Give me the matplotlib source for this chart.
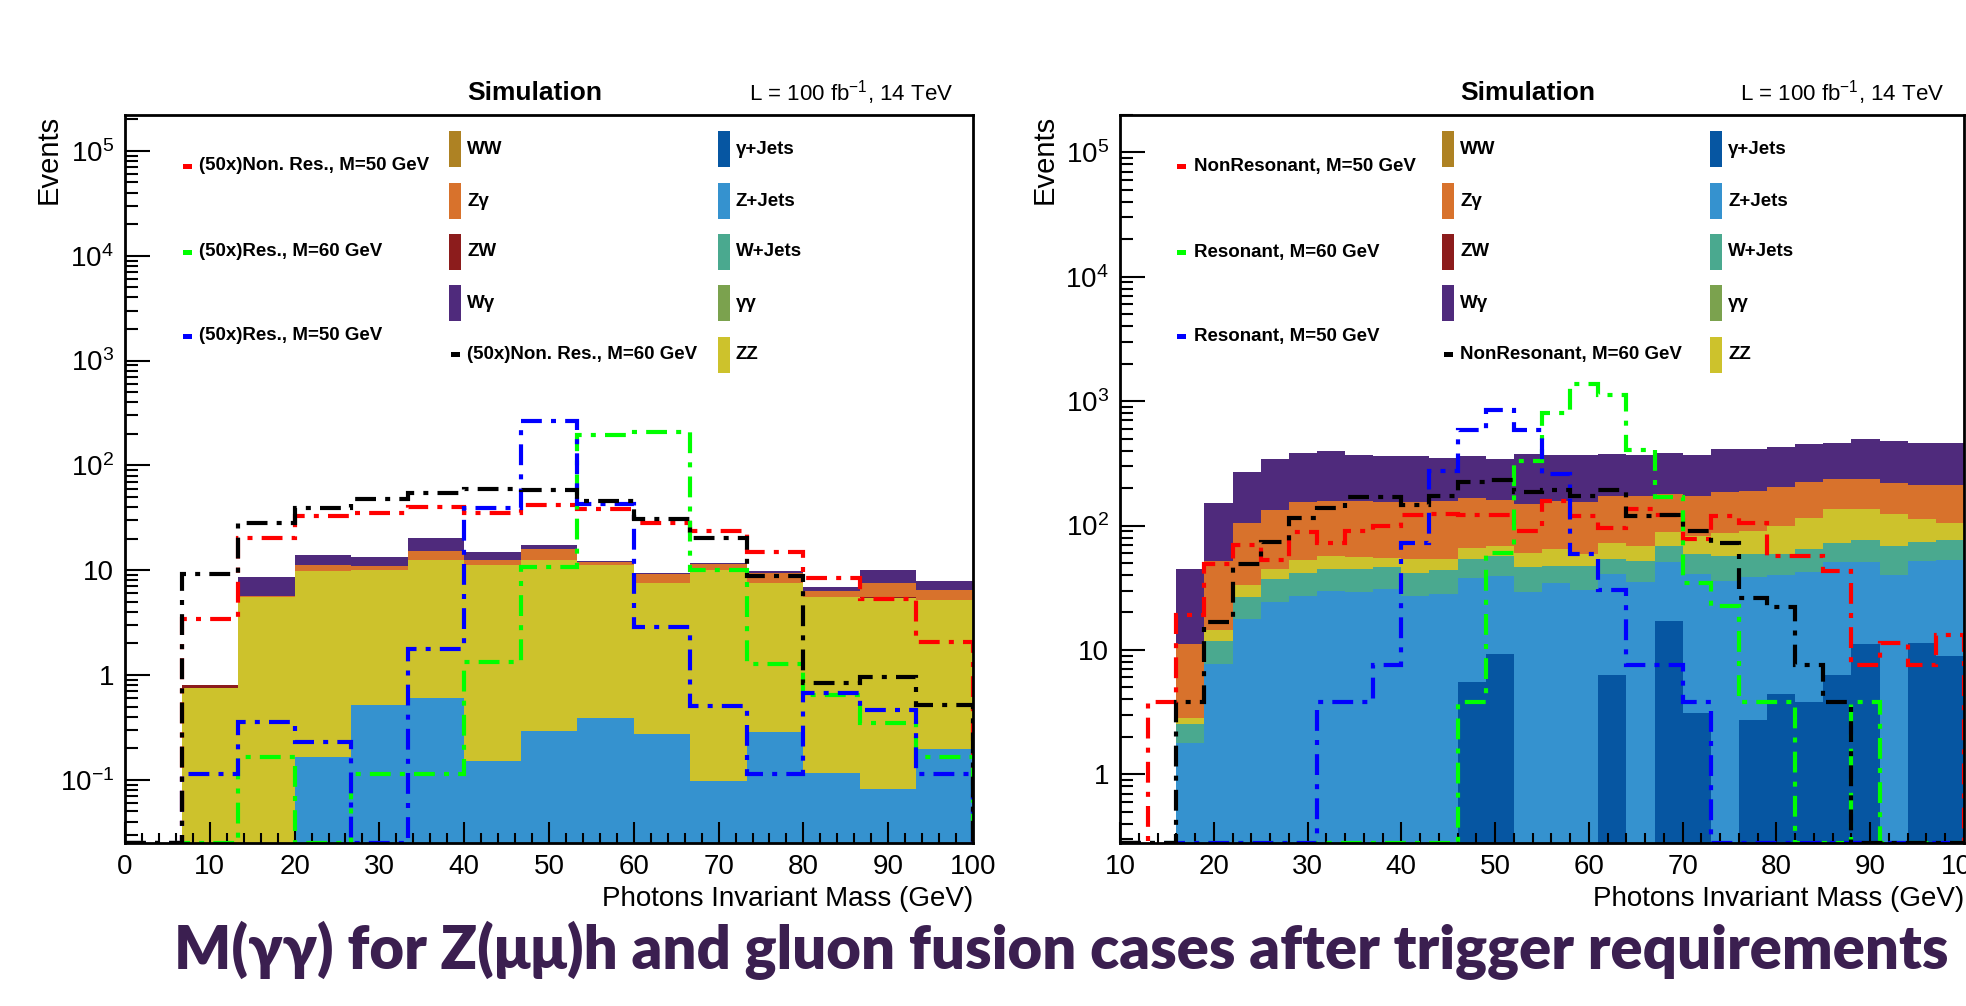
import numpy as np
import matplotlib
matplotlib.use("Agg")
import matplotlib.pyplot as plt
from matplotlib.patches import Rectangle
from matplotlib.ticker import FixedLocator, MultipleLocator, LogLocator, NullFormatter

NARROW = ['Liberation Sans Narrow', 'Liberation Sans', 'DejaVu Sans']
plt.rcParams['font.family'] = NARROW
plt.rcParams['mathtext.fontset'] = 'custom'
plt.rcParams['mathtext.rm'] = 'Liberation Sans'
plt.rcParams['mathtext.it'] = 'Liberation Sans'

# ---------------- left panel: Z(mumu)h, 15 bins 0-100 GeV ----------------
edges_l = np.linspace(0, 100, 16)
gjets_l = [0, 0, 0, 0, 0, 0, 0, 0, 0, 0, 0, 0, 0, 0, 0]
zjets_l = [0, 0, 0, 0.164, 0.52, 0.61, 0.153, 0.295, 0.386, 0.274, 0.097, 0.284, 0.116, 0.082, 0.195]
wjets_l = [0, 0, 0, 0, 0, 0, 0, 0, 0, 0, 0, 0, 0, 0, 0]
gg_l    = [0, 0, 0, 0, 0, 0, 0, 0, 0, 0, 0, 0, 0, 0, 0]
zz_l    = [0, 0.76, 5.5, 9.6, 9.5, 11.8, 11.0, 12.2, 10.8, 7.3, 9.9, 7.3, 5.4, 5.4, 5.0]
zw_l    = [0, 0.04, 0.03, 0.05, 0.05, 0.05, 0.05, 0.05, 0.05, 0.05, 0.05, 0.05, 0.05, 0.05, 0.05]
ww_l    = [0, 0, 0, 0, 0, 0, 0, 0, 0, 0, 0, 0, 0, 0, 0]
zg_l    = [0, 0, 0.2, 1.5, 1.0, 2.9, 1.2, 3.3, 0.8, 1.5, 1.4, 1.7, 0.8, 2.1, 1.2]
wg_l    = [0, 0, 2.9, 2.6, 2.4, 5.1, 2.6, 1.6, 0.3, 0.3, 0.4, 0.5, 0.5, 2.4, 1.5]

nonres50_l = [0, 3.4, 20.5, 32.9, 35.4, 40.4, 35.4, 41.9, 38, 28, 23.7, 14.9, 8.5, 5.3, 2.05]
res60_l    = [0, 0, 0.164, 0, 0.114, 0.114, 1.32, 10.8, 197, 209, 10.1, 1.27, 0.64, 0.35, 0.164]
res50_l    = [0, 0.114, 0.354, 0.229, 0, 1.77, 39.5, 268, 43, 2.9, 0.51, 0.114, 0.68, 0.46, 0.114]
nonres60_l = [0, 9.3, 28, 39.5, 48, 55, 60, 58, 45.7, 30.6, 20.5, 8.8, 0.84, 0.96, 0.52]

# ---------------- right panel: gluon fusion, 30 bins 10-100 GeV ----------------
edges_r = np.linspace(10, 100, 31)
gjets_r = [0, 0, 0, 0, 0, 0, 0, 0, 0, 0, 0, 0, 5.5, 9.2, 0, 0, 0, 6.3, 0, 17.1,
           3.1, 0, 2.75, 4.4, 3.8, 6.3, 11.1, 0, 11.4, 9.0]
zjets_r = [0, 0, 1.78, 7.7, 17.8, 24.3, 27.2, 29.8, 29.3, 31.1, 27.2, 28.4, 32.0, 30.2, 29.4,
           34.4, 30.4, 34.3, 35.2, 33.4, 37.5, 35.9, 35.5, 35.5, 38.6, 44.8, 39.4, 40.1, 40.6, 43.7]
wjets_r = [0, 0, 0.75, 4.1, 9.0, 12.7, 14.7, 15.3, 15.3, 14.9, 14.2, 15.6, 16.2, 17.7, 16.6,
           13.0, 16.5, 13.1, 16.8, 18.3, 18.3, 20.5, 20.7, 19.0, 22.3, 21.2, 26.4, 28.7, 22.1, 24.2]
gg_r    = [0] * 30
zz_r    = [0, 0, 0.3, 2.6, 6.3, 7.6, 10.8, 12.0, 11.5, 8.7, 12.3, 9.7, 11.8, 10.9, 14.0,
           17.3, 12.0, 18.6, 16.8, 20.4, 23.9, 30.6, 32.0, 40.9, 51, 64, 59, 55, 39, 28]
zw_r    = [0] * 30
ww_r    = [0] * 30
zg_r    = [0, 0, 8.3, 37.6, 71, 88, 101, 99, 100, 99, 100, 105, 100, 91, 89,
           94, 95, 102, 105, 91, 91, 98, 100, 103, 107, 101, 101, 96, 97, 107]
wg_r    = [0, 0, 33.5, 99, 165, 207, 231, 241, 215, 208, 208, 192, 194, 185, 229,
           207, 217, 204, 197, 205, 197, 230, 219, 225, 232, 227, 256, 255, 254, 249]

nonres50_r = [0, 3.8, 19.0, 49.5, 69.7, 52.7, 89.2, 71.8, 90.9, 99.8, 122, 124, 121, 121, 91,
              157, 120, 95.5, 136, 121, 77.9, 120, 105, 57.1, 57.1, 43.2, 7.6, 11.4, 7.6, 13.1]
res60_r    = [0, 0, 0, 0, 0, 0, 0, 0, 0, 0, 0, 0, 3.8, 60, 328,
              805, 1362, 1117, 407, 169, 34.2, 22.6, 3.8, 3.8, 0, 0, 3.8, 0, 0, 0]
res50_r    = [0, 0, 0, 0, 0, 0, 0, 3.8, 3.8, 7.5, 71.8, 272, 590, 856, 583,
              261, 58.9, 30.4, 7.5, 7.5, 3.8, 0, 0, 0, 0, 0, 0, 0, 0, 0]
nonres60_r = [0, 0, 3.8, 16.8, 48.9, 74.1, 116, 138, 171, 169, 146, 172, 223, 233, 185,
              194, 172, 194, 120, 121, 91, 71.8, 26.3, 22.1, 7.5, 3.8, 0, 0, 0, 0]

# legend names
bkg_col2 = ['WW', 'Zγ', 'ZW', 'Wγ']
bkg_col3 = ['γ+Jets', 'Z+Jets', 'W+Jets', 'γγ', 'ZZ']
sig_names_l = ['(50x)Non. Res., M=50 GeV', '(50x)Res., M=60 GeV', '(50x)Res., M=50 GeV',
               '(50x)Non. Res., M=60 GeV']
sig_names_r = ['NonResonant, M=50 GeV', 'Resonant, M=60 GeV', 'Resonant, M=50 GeV',
               'NonResonant, M=60 GeV']

colors = {'WW': '#ae8223', 'Zγ': '#d8722c', 'ZW': '#8c1c1c', 'Wγ': '#4f2a7c',
          'γ+Jets': '#0656a2', 'Z+Jets': '#3592cf', 'W+Jets': '#4aa98f',
          'γγ': '#7ba24e', 'ZZ': '#cdc22c'}
sig_colors = ['#ff0000', '#00ff00', '#0000ff', '#000000']
DASH = (0, (5, 2.2, 1.2, 2.2))

FIG_W, FIG_H = 1966, 1006
AX_W, AX_H = 848, 728


def panel(ax, edges, layers, signals, ylim, sig_names):
    ax.set_yscale('log')
    ax.set_xlim(edges[0], edges[-1])
    ax.set_ylim(*ylim)
    cum = np.full(len(edges) - 1, 1e-9)
    for name, vals in layers:
        top = cum + np.asarray(vals, float)
        ax.stairs(top, edges, baseline=cum, fill=True, color=colors[name], lw=0, zorder=1)
        cum = top
    for vals, c in zip(signals, sig_colors):
        v = np.asarray(vals, float)
        v = np.where(v > 0, v, ylim[0])
        ax.stairs(v, edges, baseline=ylim[0], color=c, lw=3, ls=DASH, zorder=3)

    # ticks
    ax.tick_params(which='both', direction='in', top=False, right=False, width=1.5,
                   labelsize=20, pad=8)
    ax.tick_params(axis='y', which='major', length=18)
    ax.tick_params(axis='y', which='minor', length=9)
    ax.tick_params(axis='x', which='major', length=15)
    ax.tick_params(axis='x', which='minor', length=7)
    ax.xaxis.set_major_locator(MultipleLocator(10))
    ax.xaxis.set_minor_locator(MultipleLocator(2))
    decades = [d for d in range(-1, 6) if ylim[0] <= 10.0 ** d <= ylim[1]]
    ax.yaxis.set_major_locator(FixedLocator([10.0 ** d for d in decades]))
    lab = {0: '1', 1: '10'}
    ax.set_yticklabels([lab.get(d, '$10^{%d}$' % d) for d in decades])
    ax.yaxis.set_minor_locator(LogLocator(base=10, subs=np.arange(2, 10)))
    ax.yaxis.set_minor_formatter(NullFormatter())
    for s in ax.spines.values():
        s.set_linewidth(2)
        s.set_zorder(5)

    ax.set_xlabel('Photons Invariant Mass (GeV)', fontsize=20, loc='right', labelpad=4)
    ax.text(-90 / AX_W, 1.0, 'Events', transform=ax.transAxes, rotation=90,
            ha='left', va='top', fontsize=21, family=['Liberation Sans', 'DejaVu Sans'])
    ax.text(410 / AX_W, 1 + 22 / AX_H, 'Simulation', transform=ax.transAxes,
            ha='center', va='center', fontsize=19, fontweight='bold')
    ax.text(1 - 20 / AX_W, 1 + 22 / AX_H, 'L = 100 fb$^{-1}$, 14 TeV', transform=ax.transAxes,
            ha='right', va='center', fontsize=16)

    def fx(dx):
        return dx / AX_W

    def fy(dy):
        return 1 - dy / AX_H

    def box(dx, dy, w, h, c):
        ax.add_patch(Rectangle((fx(dx - w / 2), fy(dy + h / 2)), w / AX_W, h / AX_H,
                               transform=ax.transAxes, color=c, lw=0, clip_on=False, zorder=6))

    def label(dx, dy, s):
        ax.text(fx(dx), fy(dy), s, transform=ax.transAxes, ha='left', va='center',
                fontsize=13.5, fontweight='bold', zorder=6)

    rows = [34, 86, 137, 188, 240]
    for dy, name, c in zip([51, 137, 221], sig_names[:3], sig_colors[:3]):
        box(62, dy, 9, 5, c)
        label(74, dy, name)
    for dy, name in zip(rows, bkg_col2):
        box(330, dy, 12, 36, colors[name])
        label(342, dy, name)
    box(330, rows[4], 9, 5, sig_colors[3])
    label(342, rows[4], sig_names[3])
    for dy, name in zip(rows, bkg_col3):
        box(599, dy, 12, 36, colors[name])
        label(611, dy, name)


order = ['γ+Jets', 'Z+Jets', 'W+Jets', 'γγ', 'ZZ', 'ZW', 'WW', 'Zγ', 'Wγ']

fig = plt.figure(figsize=(FIG_W / 100, FIG_H / 100), dpi=100)
axl = fig.add_axes([125 / FIG_W, 1 - 843 / FIG_H, AX_W / FIG_W, AX_H / FIG_H])
axr = fig.add_axes([1120 / FIG_W, 1 - 843 / FIG_H, 844 / FIG_W, AX_H / FIG_H])

layers_l = list(zip(order, [gjets_l, zjets_l, wjets_l, gg_l, zz_l, zw_l, ww_l, zg_l, wg_l]))
layers_r = list(zip(order, [gjets_r, zjets_r, wjets_r, gg_r, zz_r, zw_r, ww_r, zg_r, wg_r]))

panel(axl, edges_l, layers_l, [nonres50_l, res60_l, res50_l, nonres60_l], (0.025, 2.2e5), sig_names_l)
panel(axr, edges_r, layers_r, [nonres50_r, res60_r, res50_r, nonres60_r], (0.28, 2.0e5), sig_names_r)

fig.text(1061 / FIG_W, 1 - 950 / FIG_H,
         'M(γγ) for Z(μμ)h and gluon fusion cases after trigger requirements',
         ha='center', va='center', fontsize=43, fontweight='heavy', color='#3b1f50',
         family=['Lato', 'Open Sans', 'DejaVu Sans'])

fig.savefig('out.png', dpi=100)
